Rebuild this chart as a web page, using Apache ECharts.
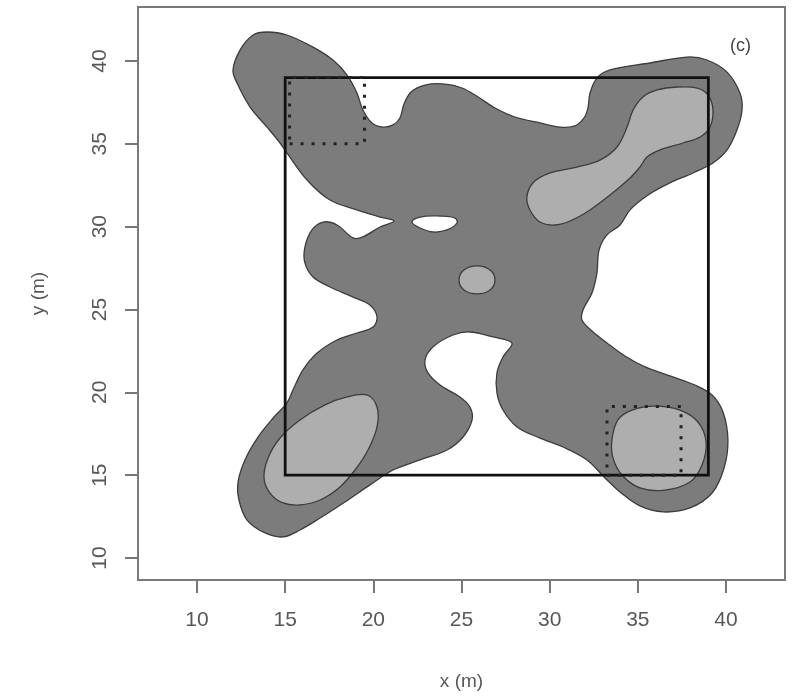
<!DOCTYPE html>
<html>
<head>
<meta charset="utf-8">
<script src="https://cdn.jsdelivr.net/npm/echarts@6/dist/echarts.min.js"></script>
<style>
  html, body { margin: 0; padding: 0; background: #ffffff; }
  #chart { width: 800px; height: 696px; }
</style>
</head>
<body>
<div id="chart"></div>
<script>
// Axis ranges and tick labels (metres)
const xRange = [6.654, 43.346];
const yRange = [8.67, 43.26];
const xTicks = [10, 15, 20, 25, 30, 35, 40];
const yTicks = [10, 15, 20, 25, 30, 35, 40];

// Lower density contour: boundary of the dark region, [x, y] in metres
const outerContour = [
  [12.04, 39.46], [12.44, 40.66], [13.18, 41.57], [13.97, 41.75], [15.10, 41.57],
  [16.58, 40.84], [17.71, 40.06], [18.51, 39.15], [19.07, 38.07], [19.41, 37.04],
  [19.92, 36.26], [20.55, 36.01], [21.12, 36.14], [21.51, 36.56], [21.74, 37.40],
  [22.14, 38.13], [22.93, 38.55], [24.06, 38.61], [25.03, 38.37], [25.94, 37.83],
  [26.90, 37.16], [28.03, 36.62], [29.45, 36.26], [30.59, 36.01], [31.44, 36.08],
  [31.95, 36.56], [32.17, 37.16], [32.29, 38.07], [32.68, 38.97], [33.42, 39.46],
  [35.69, 39.88], [37.79, 40.24], [38.92, 40.06], [40.06, 39.33], [40.79, 38.07],
  [40.91, 37.04], [40.62, 35.83], [40.06, 34.63], [39.26, 33.84], [38.13, 33.24],
  [36.82, 32.64], [35.58, 31.91], [34.56, 31.01], [33.99, 30.10], [33.25, 29.50],
  [32.80, 28.59], [32.68, 27.20], [32.40, 26.00], [31.89, 24.97], [31.83, 24.37],
  [32.40, 23.70], [33.25, 22.98], [34.27, 22.19], [35.41, 21.53], [36.82, 20.99],
  [38.24, 20.44], [39.21, 19.84], [39.83, 18.81], [40.11, 17.12], [39.89, 15.43],
  [39.21, 13.92], [37.96, 13.02], [36.43, 12.78], [35.12, 13.14], [33.99, 13.98],
  [33.14, 14.83], [32.12, 15.92], [30.76, 16.70], [29.45, 17.24], [28.15, 17.91],
  [27.35, 18.93], [27.01, 19.96], [27.01, 21.17], [27.35, 22.13], [27.86, 22.98],
  [26.79, 23.34], [25.48, 23.64], [24.52, 23.46], [23.38, 22.74], [22.93, 21.95],
  [23.10, 21.17], [23.78, 20.44], [24.91, 19.72], [25.48, 19.11], [25.60, 18.33],
  [25.09, 17.30], [24.18, 16.52], [22.65, 15.92], [21.12, 15.31], [19.81, 14.41],
  [18.39, 13.38], [16.98, 12.41], [15.84, 11.69], [14.88, 11.27], [13.86, 11.51],
  [12.84, 12.29], [12.38, 13.50], [12.33, 14.59], [12.72, 15.92], [13.46, 17.30],
  [14.37, 18.51], [15.10, 19.36], [15.44, 20.14], [16.01, 21.35], [16.81, 22.37],
  [17.94, 23.16], [19.07, 23.58], [19.98, 23.94], [20.21, 24.55], [19.81, 25.27],
  [18.85, 25.75], [17.54, 26.36], [16.58, 26.96], [16.12, 27.81], [16.12, 28.77],
  [16.52, 29.80], [17.15, 30.28], [17.94, 30.10], [18.85, 29.32], [19.41, 29.38],
  [20.38, 29.98], [21.17, 30.34], [20.38, 30.58], [19.07, 31.01], [17.54, 31.61],
  [16.24, 32.82], [15.10, 34.45], [14.71, 35.05], [13.97, 36.01], [13.01, 37.22],
  [12.27, 38.67]
];

// Gap inside the dark region
const innerHole = [
  [22.19, 30.28], [22.65, 30.58], [23.78, 30.64], [24.63, 30.52],
  [24.74, 30.22], [24.18, 29.80], [23.38, 29.68], [22.65, 29.92]
];

// Higher density contours (light regions)
const centrePeak = [
  [24.86, 26.78], [25.14, 27.38], [25.88, 27.63], [26.62, 27.38],
  [26.90, 26.78], [26.62, 26.18], [25.88, 25.94], [25.14, 26.18]
];
const nePeak = [
  [28.71, 31.79], [28.88, 31.01], [29.45, 30.28], [30.30, 30.10], [31.15, 30.34],
  [32.29, 31.01], [33.42, 31.91], [34.56, 32.94], [35.12, 33.60], [35.52, 34.20],
  [36.26, 34.63], [37.56, 35.05], [38.53, 35.41], [39.09, 36.01], [39.26, 37.04],
  [38.98, 37.95], [38.36, 38.37], [37.22, 38.43], [36.09, 38.25], [35.29, 37.83],
  [34.73, 37.04], [34.39, 36.01], [33.82, 34.81], [32.85, 34.02], [31.55, 33.60],
  [30.02, 33.24], [29.05, 32.64]
];
const swPeak = [
  [20.21, 19.11], [20.21, 17.91], [19.70, 16.52], [18.96, 15.31], [18.11, 14.29],
  [16.98, 13.50], [15.84, 13.20], [14.88, 13.32], [14.14, 13.92], [13.80, 14.83],
  [14.03, 16.04], [14.71, 17.24], [15.84, 18.33], [17.26, 19.24], [18.51, 19.72],
  [19.64, 19.84]
];
const sePeak = [
  [33.53, 17.12], [33.87, 18.33], [34.67, 18.93], [35.97, 19.17], [37.39, 18.93],
  [38.41, 18.21], [38.87, 17.00], [38.64, 15.61], [37.96, 14.59], [36.54, 14.10],
  [35.12, 14.23], [34.10, 15.01], [33.59, 16.04]
];

// Plot outline and the two sub-quadrats
const plotSquare = [[15, 15], [39, 15], [39, 39], [15, 39]];
const nwQuadrat = [[15.25, 35], [19.5, 35], [19.5, 39], [15.25, 39]];
const seQuadrat = [[33.25, 15], [37.45, 15], [37.45, 19.15], [33.25, 19.15]];

const DARK = '#7c7c7c';
const LIGHT = '#aeaeae';
const EDGE = '#3c3c3c';

function polygonSeries(points, style, smooth, z) {
  return {
    type: 'custom',
    coordinateSystem: 'cartesian2d',
    silent: true,
    clip: true,
    z: z,
    data: [points[0]],
    renderItem: function (params, api) {
      return {
        type: 'polygon',
        shape: { points: points.map(function (p) { return api.coord(p); }), smooth: smooth },
        style: style
      };
    }
  };
}

const axisFont = { fontFamily: 'Liberation Sans, Arial, sans-serif', fontSize: 21, color: '#585858' };

const chart = echarts.init(document.getElementById('chart'), null, { renderer: 'canvas' });
chart.setOption({
  animation: false,
  backgroundColor: '#ffffff',
  grid: {
    left: 138, right: 15, top: 7, bottom: 116,
    show: true, borderColor: '#7a7a7a', borderWidth: 2, backgroundColor: '#ffffff'
  },
  xAxis: {
    type: 'value', min: xRange[0], max: xRange[1],
    name: 'x (m)', nameLocation: 'middle', nameGap: 92,
    nameTextStyle: Object.assign({}, axisFont, { fontSize: 19 }),
    axisLine: { show: false },
    splitLine: { show: false },
    axisTick: { show: true, inside: false, length: 13, customValues: xTicks,
      lineStyle: { color: '#777777', width: 2 } },
    axisLabel: Object.assign({ show: true, margin: 30, customValues: xTicks,
      formatter: function (v) { return String(v); } }, axisFont)
  },
  yAxis: {
    type: 'value', min: yRange[0], max: yRange[1],
    name: 'y (m)', nameLocation: 'middle', nameGap: 90, nameRotate: 90,
    nameTextStyle: Object.assign({}, axisFont, { fontSize: 19 }),
    axisLine: { show: false },
    splitLine: { show: false },
    axisTick: { show: true, inside: false, length: 13, customValues: yTicks,
      lineStyle: { color: '#777777', width: 2 } },
    axisLabel: Object.assign({ show: true, margin: 27, rotate: 90, customValues: yTicks,
      formatter: function (v) { return String(v); } }, axisFont)
  },
  graphic: [{
    type: 'text', left: 730, top: 37,
    style: { text: '(c)', fontFamily: 'Liberation Sans, Arial, sans-serif', fontSize: 18, fill: '#444444' }
  }],
  series: [
    polygonSeries(outerContour, { fill: DARK, stroke: EDGE, lineWidth: 1.3 }, 0.35, 1),
    polygonSeries(innerHole, { fill: '#ffffff', stroke: EDGE, lineWidth: 1.3 }, 0.4, 2),
    polygonSeries(centrePeak, { fill: LIGHT, stroke: EDGE, lineWidth: 1.3 }, 0.4, 3),
    polygonSeries(nePeak, { fill: LIGHT, stroke: EDGE, lineWidth: 1.3 }, 0.35, 3),
    polygonSeries(swPeak, { fill: LIGHT, stroke: EDGE, lineWidth: 1.3 }, 0.35, 3),
    polygonSeries(sePeak, { fill: LIGHT, stroke: EDGE, lineWidth: 1.3 }, 0.35, 3),
    polygonSeries(plotSquare, { fill: 'none', stroke: '#111111', lineWidth: 2.8 }, 0, 4),
    polygonSeries(nwQuadrat, { fill: 'none', stroke: '#222222', lineWidth: 3, lineDash: [3, 8] }, 0, 5),
    polygonSeries(seQuadrat, { fill: 'none', stroke: '#222222', lineWidth: 3, lineDash: [3, 8] }, 0, 5)
  ]
});
</script>
</body>
</html>
